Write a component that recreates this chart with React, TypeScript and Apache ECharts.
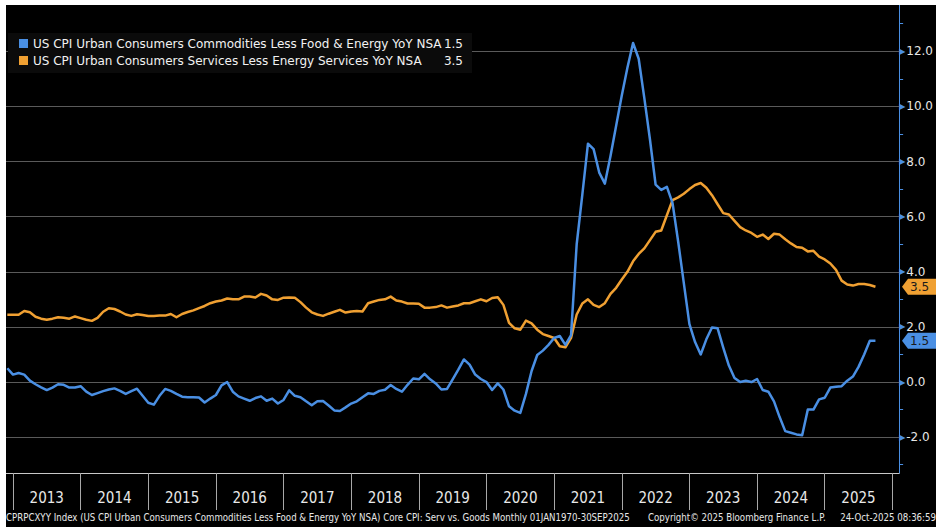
import React, { useEffect, useRef } from "react";
import * as echarts from "echarts";

// Monthly data, starting Nov 2012 (points at month end), through Sep 2025
const startYear = 2012;
const startMonth = 11;

const goods: number[] = [
  // 2012 Nov-Dec
  0.5, 0.27,
  // 2013
  0.33, 0.27, 0.05, -0.08, -0.19, -0.29, -0.2, -0.08, -0.1, -0.2, -0.2, -0.15,
  // 2014
  -0.35, -0.47, -0.4, -0.33, -0.27, -0.23, -0.32, -0.43, -0.33, -0.24, -0.5, -0.75,
  // 2015
  -0.82, -0.5, -0.25, -0.32, -0.43, -0.53, -0.55, -0.55, -0.56, -0.74, -0.6, -0.47,
  // 2016
  -0.12, 0.0, -0.35, -0.52, -0.6, -0.68, -0.58, -0.52, -0.68, -0.6, -0.78, -0.65,
  // 2017
  -0.3, -0.5, -0.55, -0.7, -0.84, -0.7, -0.69, -0.85, -1.03, -1.05, -0.92, -0.78,
  // 2018
  -0.7, -0.55, -0.41, -0.43, -0.32, -0.28, -0.11, -0.25, -0.35, -0.1, 0.13, 0.1,
  // 2019
  0.3, 0.1, -0.05, -0.27, -0.25, 0.1, 0.45, 0.82, 0.63, 0.27, 0.11, 0.0,
  // 2020
  -0.29, -0.05, -0.27, -0.88, -1.04, -1.12, -0.43, 0.4, 0.98, 1.14, 1.35, 1.6,
  // 2021
  1.67, 1.35, 1.7, 5.0, 6.8, 8.65, 8.45, 7.6, 7.2, 8.2, 9.3, 10.4,
  // 2022
  11.4, 12.3, 11.73, 10.3, 8.8, 7.16, 6.97, 7.08, 6.5, 5.1, 3.6, 2.1,
  // 2023
  1.45, 1.0, 1.55, 1.98, 1.95, 1.25, 0.6, 0.15, 0.0, 0.05, 0.0, 0.11,
  // 2024
  -0.29, -0.35, -0.7, -1.27, -1.78, -1.84, -1.9, -1.93, -1.0, -1.0, -0.63, -0.57,
  // 2025 Jan-Sep
  -0.2, -0.17, -0.15, 0.05, 0.2, 0.55, 1.0, 1.5, 1.5,
];

const services: number[] = [
  // 2012 Nov-Dec
  2.44, 2.44,
  // 2013
  2.44, 2.58, 2.53, 2.37, 2.3, 2.26, 2.3, 2.35, 2.33, 2.3, 2.38, 2.32,
  // 2014
  2.26, 2.22, 2.33, 2.55, 2.68, 2.65, 2.56, 2.45, 2.4, 2.46, 2.43, 2.4,
  // 2015
  2.4, 2.41, 2.41, 2.47, 2.35, 2.47, 2.54, 2.6, 2.68, 2.76, 2.86, 2.92,
  // 2016
  2.96, 3.03, 3.0, 3.0, 3.1, 3.1, 3.07, 3.2, 3.14, 3.0, 2.98, 3.06,
  // 2017
  3.07, 3.06, 2.9, 2.7, 2.53, 2.45, 2.4, 2.48, 2.55, 2.62, 2.52, 2.56,
  // 2018
  2.58, 2.56, 2.86, 2.92, 2.98, 3.0, 3.1, 2.96, 2.92, 2.85, 2.85, 2.84,
  // 2019
  2.7, 2.7, 2.72, 2.78, 2.7, 2.74, 2.78, 2.86, 2.86, 2.93, 3.0, 2.93,
  // 2020
  3.05, 3.08, 2.8, 2.15, 1.95, 1.9, 2.23, 2.13, 1.9, 1.74, 1.67, 1.6,
  // 2021
  1.3, 1.26, 1.6, 2.45, 2.85, 3.0, 2.8, 2.72, 2.86, 3.2, 3.42, 3.72,
  // 2022
  4.0, 4.38, 4.65, 4.85, 5.15, 5.45, 5.5, 6.05, 6.6, 6.7, 6.83, 7.0,
  // 2023
  7.15, 7.22, 7.05, 6.78, 6.45, 6.13, 6.08, 5.85, 5.62, 5.5, 5.41, 5.27,
  // 2024
  5.35, 5.19, 5.38, 5.35, 5.18, 5.03, 4.9, 4.87, 4.74, 4.76, 4.55, 4.45,
  // 2025 Jan-Sep
  4.3, 4.07, 3.68, 3.54, 3.5, 3.56, 3.56, 3.52, 3.46,
];

const yearTicks = [2013, 2014, 2015, 2016, 2017, 2018, 2019, 2020, 2021, 2022, 2023, 2024, 2025, 2026];
const yearLabels = [2013, 2014, 2015, 2016, 2017, 2018, 2019, 2020, 2021, 2022, 2023, 2024, 2025];
const yLabelValues = [-2, 0, 2, 4, 6, 8, 10, 12];
const yMinorValues = [-3, -1, 1, 3, 5, 7, 9, 11, 13];

const seriesNames = [
  "US CPI Urban Consumers Commodities Less Food & Energy YoY NSA",
  "US CPI Urban Consumers Services Less Energy Services YoY NSA",
];
const footerLeft =
  "CPRPCXYY Index (US CPI Urban Consumers Commodities Less Food & Energy YoY NSA) Core CPI: Serv vs. Goods Monthly 01JAN1970-30SEP2025";
const footerMid = "Copyright\u00A9 2025 Bloomberg Finance L.P.";
const footerRight = "24-Oct-2025 08:36:59";

const BLUE = "#4a8fe3";
const ORANGE = "#f0a032";
const GRID = "#5a5a5a";
const NARROW = "'Liberation Sans Narrow', 'DejaVu Sans Condensed', sans-serif";

const toTime = (i: number) => startYear + (startMonth + i) / 12;

export default function App() {
  const ref = useRef<HTMLDivElement>(null);

  useEffect(() => {
    if (!ref.current) return;
    const chart = echarts.init(ref.current, null, { renderer: "svg" });
    const goodsData = goods.map((v, i) => [toTime(i), v]);
    const servData = services.map((v, i) => [toTime(i), v]);
    const lastGoods = goods[goods.length - 1];
    const lastServ = services[services.length - 1];

    chart.setOption({
      animation: false,
      backgroundColor: "#000000",
      grid: { left: 0, top: 0, width: 894, height: 468 },
      xAxis: {
        type: "value",
        min: 2012.897,
        max: 2026.1,
        splitLine: { show: false },
        axisLine: { show: true, onZero: false, lineStyle: { color: "#c8c8c8", width: 1 } },
        axisTick: {
          show: true,
          customValues: yearTicks,
          length: 37,
          lineStyle: { color: "#a8a8a8", width: 1 },
        },
        axisLabel: {
          customValues: yearLabels.map((y) => y + 0.5),
          formatter: (v: number) => String(Math.floor(v)),
          color: "#e8e8e8",
          fontFamily: NARROW,
          fontSize: 15,
          margin: 17,
        },
      },
      yAxis: {
        type: "value",
        position: "right",
        min: -3.3,
        max: 13.68,
        splitLine: { show: false },
        axisLine: { show: true, lineStyle: { color: BLUE, width: 1 } },
        axisTick: {
          show: true,
          customValues: yMinorValues,
          length: 4,
          lineStyle: { color: BLUE, width: 1 },
        },
        axisLabel: {
          customValues: yLabelValues,
          margin: 0,
          formatter: (v: number) => "{t|\u25B6}{v|" + v.toFixed(1) + "}",
          rich: {
            t: { color: BLUE, fontSize: 8, fontFamily: "DejaVu Sans", padding: [0, 1, 0, 0] },
            v: { color: "#e6e6e6", fontSize: 12, fontFamily: "DejaVu Sans" },
          },
        },
      },
      series: [
        {
          name: seriesNames[1],
          type: "line",
          data: servData,
          showSymbol: false,
          lineStyle: { color: ORANGE, width: 2.5, join: "round" },
          z: 3,
          markLine: {
            silent: true,
            symbol: ["none", "none"],
            label: { show: false },
            lineStyle: { color: GRID, width: 1, type: "solid" },
            data: yLabelValues.map((v) => ({ yAxis: v })),
            z: 1,
          },
        },
        {
          name: seriesNames[0],
          type: "line",
          data: goodsData,
          showSymbol: false,
          lineStyle: { color: BLUE, width: 2.5, join: "round" },
          z: 4,
        },
      ],
    });

    const yg = chart.convertToPixel({ yAxisIndex: 0 }, lastGoods) as number;
    const ys = chart.convertToPixel({ yAxisIndex: 0 }, lastServ) as number;

    const tag = (y: number, color: string, text: string) => ({
      type: "group",
      z: 100,
      children: [
        {
          type: "polygon",
          shape: {
            points: [
              [896, y],
              [902, y - 8],
              [930, y - 8],
              [930, y + 8],
              [902, y + 8],
            ],
          },
          style: { fill: color },
        },
        {
          type: "text",
          x: 904,
          y: y,
          style: {
            text,
            fill: "#1a1a1a",
            font: "12px 'DejaVu Sans'",
            verticalAlign: "middle",
            align: "left",
          },
        },
      ],
    });

    const legendFont = "12px 'DejaVu Sans'";
    const footFont = "9.6px " + NARROW;
    chart.setOption({
      graphic: [
        {
          type: "rect",
          z: 100,
          shape: { x: 2, y: 28, width: 464, height: 40 },
          style: { fill: "#0b0b0b" },
        },
        {
          type: "rect",
          z: 101,
          shape: { x: 13, y: 34, width: 9, height: 9 },
          style: { fill: BLUE },
        },
        {
          type: "rect",
          z: 101,
          shape: { x: 13, y: 51, width: 9, height: 9 },
          style: { fill: ORANGE },
        },
        {
          type: "text",
          z: 101,
          x: 27,
          y: 39,
          style: { text: seriesNames[0], fill: "#f2f2f2", font: legendFont, verticalAlign: "middle" },
        },
        {
          type: "text",
          z: 101,
          x: 27,
          y: 56,
          style: { text: seriesNames[1], fill: "#f2f2f2", font: legendFont, verticalAlign: "middle" },
        },
        {
          type: "text",
          z: 101,
          x: 457,
          y: 39,
          style: { text: lastGoods.toFixed(1), fill: "#f2f2f2", font: legendFont, verticalAlign: "middle", align: "right" },
        },
        {
          type: "text",
          z: 101,
          x: 457,
          y: 56,
          style: { text: lastServ.toFixed(1), fill: "#f2f2f2", font: legendFont, verticalAlign: "middle", align: "right" },
        },
        tag(ys, ORANGE, lastServ.toFixed(1)),
        tag(yg, BLUE, lastGoods.toFixed(1)),
        {
          type: "text",
          z: 101,
          x: 0,
          y: 512,
          style: { text: footerLeft, fill: "#e8e8e8", font: footFont, verticalAlign: "middle" },
        },
        {
          type: "text",
          z: 101,
          x: 642,
          y: 512,
          style: { text: footerMid, fill: "#e8e8e8", font: footFont, verticalAlign: "middle" },
        },
        {
          type: "text",
          z: 101,
          x: 930,
          y: 512,
          style: { text: footerRight, fill: "#e8e8e8", font: footFont, verticalAlign: "middle", align: "right" },
        },
      ],
    });

    return () => chart.dispose();
  }, []);

  return (
    <div
      style={{
        position: "fixed",
        left: 0,
        top: 0,
        width: 936,
        height: 532,
        background: "#ffffff",
      }}
    >
      <div
        ref={ref}
        style={{
          position: "absolute",
          left: 6,
          top: 5,
          width: 930,
          height: 522,
          background: "#000000",
        }}
      />
    </div>
  );
}
